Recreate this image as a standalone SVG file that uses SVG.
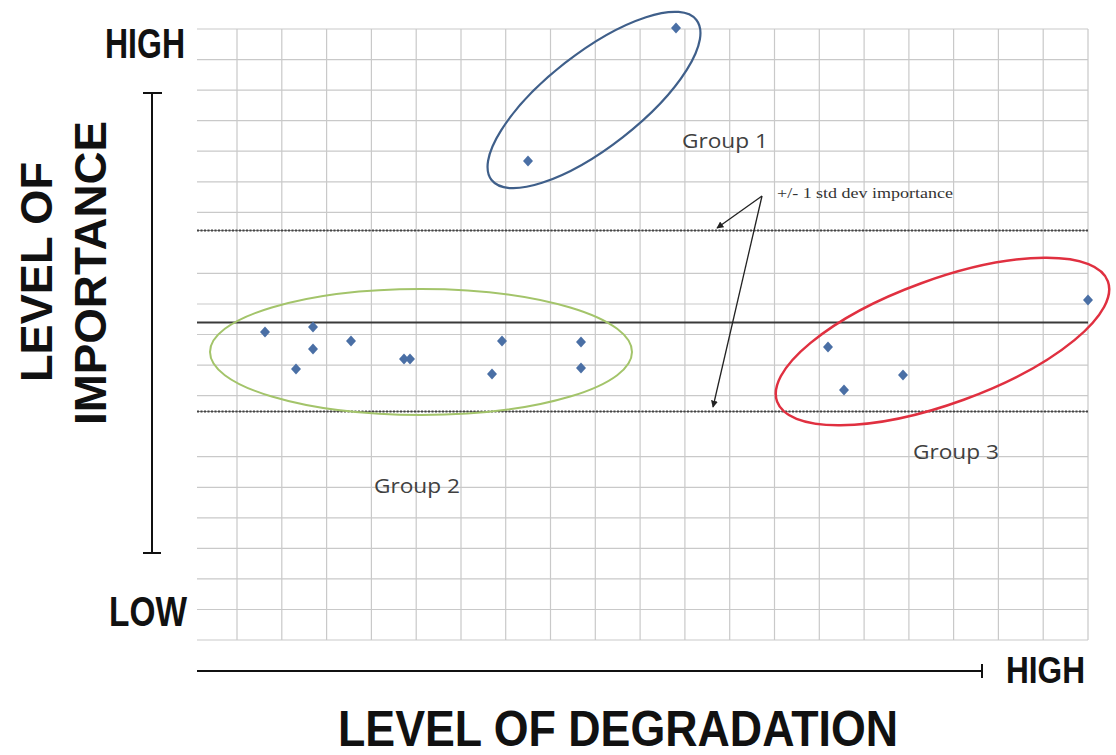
<svg xmlns="http://www.w3.org/2000/svg" xmlns:xlink="http://www.w3.org/1999/xlink" width="1116" height="755" viewBox="0 0 1116 755">
  <style>
    .grid { stroke: #c9c9c9; stroke-width: 1.2; fill: none; }
    .axis { stroke: #111; stroke-width: 2; fill: none; }
    .title { font-family: "Liberation Sans", Arial, sans-serif; font-weight: bold; fill: #111; }
    .glabel { font-family: "Open Sans", "Liberation Sans", sans-serif; font-size: 20px; fill: #404040; }
    .note { font-family: "Liberation Serif", "Times New Roman", serif; font-size: 14px; fill: #333; }
    .conn { stroke: #222; stroke-width: 1.3; fill: none; }
    .pt { fill: #4a6fa5; }
  </style>
  <defs>
    <path id="dia" d="M0,-5.5 L5,0 L0,5.5 L-5,0 Z"/>
    <marker id="ah" viewBox="0 0 10 10" refX="9" refY="5" markerWidth="7" markerHeight="7" orient="auto" markerUnits="userSpaceOnUse">
      <path d="M0,0 L10,5 L0,10 Z" fill="#222"/>
    </marker>
  </defs>
  <rect width="1116" height="755" fill="#fff"/>

  <g id="grid">
    <path class="grid" d="M237,29V640 M281.8,29V640 M326.6,29V640 M371.4,29V640 M416.2,29V640 M461,29V640 M505.7,29V640 M550.5,29V640 M595.3,29V640 M640.1,29V640 M684.9,29V640 M729.7,29V640 M774.5,29V640 M819.3,29V640 M864.1,29V640 M908.9,29V640 M953.6,29V640 M998.4,29V640 M1043.2,29V640 M1088,29V640"/>
    <path class="grid" d="M197,29H1088 M197,59.6H1088 M197,90.1H1088 M197,120.7H1088 M197,151.2H1088 M197,181.8H1088 M197,212.3H1088 M197,273.4H1088 M197,304H1088 M197,334.5H1088 M197,365.1H1088 M197,395.6H1088 M197,456.7H1088 M197,487.3H1088 M197,517.8H1088 M197,548.4H1088 M197,578.9H1088 M197,609.5H1088 M197,640H1088"/>
  </g>

  <g id="reference-lines">
    <line x1="197" y1="322.5" x2="1088" y2="322.5" stroke="#3a3a3a" stroke-width="2.2"/>
    <line x1="197" y1="230.5" x2="1088" y2="230.5" stroke="#888" stroke-width="1.2"/>
    <line x1="197" y1="230.5" x2="1088" y2="230.5" stroke="#444" stroke-width="1.8" stroke-dasharray="2 1.5"/>
    <line x1="197" y1="411.5" x2="1088" y2="411.5" stroke="#888" stroke-width="1.2"/>
    <line x1="197" y1="411.5" x2="1088" y2="411.5" stroke="#444" stroke-width="1.8" stroke-dasharray="2 1.5"/>
  </g>

  <g id="y-axis">
    <path class="axis" d="M152,93V553 M143,93H162 M143,553H161"/>
    <text class="title" x="105" y="58" font-size="42" textLength="80" lengthAdjust="spacingAndGlyphs">HIGH</text>
    <text class="title" x="109" y="626" font-size="42" textLength="78" lengthAdjust="spacingAndGlyphs">LOW</text>
    <text class="title" transform="translate(52,272) rotate(-90)" text-anchor="middle" font-size="44" textLength="220" lengthAdjust="spacingAndGlyphs">LEVEL OF</text>
    <text class="title" transform="translate(106,273) rotate(-90)" text-anchor="middle" font-size="44" textLength="304" lengthAdjust="spacingAndGlyphs">IMPORTANCE</text>
  </g>

  <g id="x-axis">
    <path class="axis" d="M197,671H982 M982,664V678"/>
    <text class="title" x="1006" y="683" font-size="36" textLength="79" lengthAdjust="spacingAndGlyphs">HIGH</text>
    <text class="title" x="338" y="746" font-size="50" textLength="560" lengthAdjust="spacingAndGlyphs">LEVEL OF DEGRADATION</text>
  </g>

  <g id="group-1">
    <ellipse cx="594" cy="100" rx="130" ry="47" transform="rotate(-38 594 100)" fill="none" stroke="#3f5f8a" stroke-width="2.2"/>
    <use href="#dia" xlink:href="#dia" class="pt" x="676" y="28"/>
    <use href="#dia" xlink:href="#dia" class="pt" x="528" y="161"/>
    <text class="glabel" x="682" y="148" textLength="86" lengthAdjust="spacingAndGlyphs">Group 1</text>
  </g>

  <g id="group-2">
    <ellipse cx="421" cy="352" rx="211" ry="63" fill="none" stroke="#a3c46a" stroke-width="2"/>
    <use href="#dia" xlink:href="#dia" class="pt" x="265" y="332"/>
    <use href="#dia" xlink:href="#dia" class="pt" x="313" y="327"/>
    <use href="#dia" xlink:href="#dia" class="pt" x="313" y="349"/>
    <use href="#dia" xlink:href="#dia" class="pt" x="296" y="369"/>
    <use href="#dia" xlink:href="#dia" class="pt" x="351" y="341"/>
    <use href="#dia" xlink:href="#dia" class="pt" x="404" y="359"/>
    <use href="#dia" xlink:href="#dia" class="pt" x="410" y="359"/>
    <use href="#dia" xlink:href="#dia" class="pt" x="502" y="341"/>
    <use href="#dia" xlink:href="#dia" class="pt" x="492" y="374"/>
    <use href="#dia" xlink:href="#dia" class="pt" x="581" y="342"/>
    <use href="#dia" xlink:href="#dia" class="pt" x="581" y="368"/>
    <text class="glabel" x="374" y="493" textLength="86" lengthAdjust="spacingAndGlyphs">Group 2</text>
  </g>

  <g id="group-3">
    <ellipse cx="942.5" cy="341.5" rx="176" ry="62" transform="rotate(-20 942.5 341.5)" fill="none" stroke="#e03040" stroke-width="2.5"/>
    <use href="#dia" xlink:href="#dia" class="pt" x="1088" y="300"/>
    <use href="#dia" xlink:href="#dia" class="pt" x="828" y="347"/>
    <use href="#dia" xlink:href="#dia" class="pt" x="844" y="390"/>
    <use href="#dia" xlink:href="#dia" class="pt" x="903" y="375"/>
    <text class="glabel" x="913" y="459" textLength="86" lengthAdjust="spacingAndGlyphs">Group 3</text>
  </g>

  <g id="annotation">
    <text class="note" x="777" y="198" textLength="176" lengthAdjust="spacingAndGlyphs">+/- 1 std dev importance</text>
  </g>

  <g id="connectors">
    <line class="conn" x1="762" y1="196" x2="717" y2="228" marker-end="url(#ah)"/>
    <line class="conn" x1="762" y1="196" x2="713" y2="407" marker-end="url(#ah)"/>
  </g>
</svg>
